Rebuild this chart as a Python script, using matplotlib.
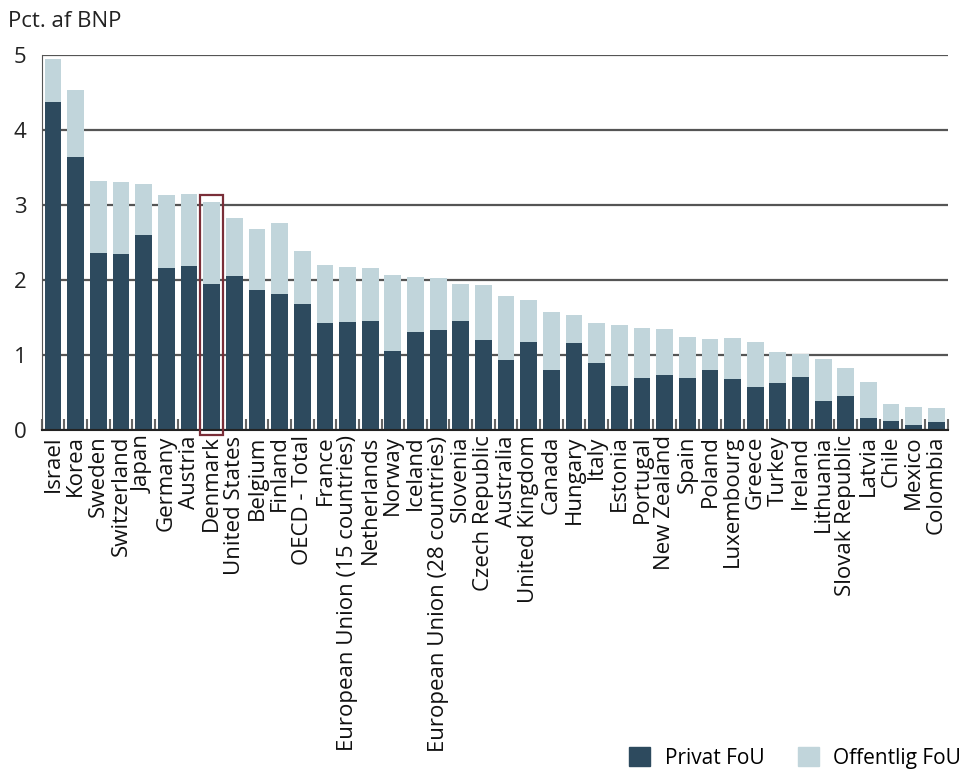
import matplotlib.pyplot as plt
import matplotlib.patches as mpatches
import numpy as np

countries = [
    "Israel", "Korea", "Sweden", "Switzerland", "Japan", "Germany", "Austria",
    "Denmark", "United States", "Belgium", "Finland", "OECD - Total", "France",
    "European Union (15 countries)", "Netherlands", "Norway", "Iceland",
    "European Union (28 countries)", "Slovenia", "Czech Republic", "Australia",
    "United Kingdom", "Canada", "Hungary", "Italy", "Estonia", "Portugal",
    "New Zealand", "Spain", "Poland", "Luxembourg", "Greece", "Turkey",
    "Ireland", "Lithuania", "Slovak Republic", "Latvia", "Chile", "Mexico",
    "Colombia",
]
# total R&D (pct. of GDP) and the private part of it
total = [4.95, 4.53, 3.32, 3.31, 3.28, 3.13, 3.15, 3.04, 2.83, 2.68, 2.76,
         2.39, 2.20, 2.17, 2.16, 2.07, 2.04, 2.03, 1.95, 1.93, 1.79, 1.73,
         1.57, 1.53, 1.43, 1.40, 1.36, 1.35, 1.24, 1.21, 1.23, 1.17, 1.04,
         1.01, 0.95, 0.83, 0.64, 0.35, 0.31, 0.29]
privat = [4.37, 3.64, 2.36, 2.35, 2.60, 2.16, 2.19, 1.95, 2.05, 1.87, 1.81,
          1.68, 1.43, 1.44, 1.45, 1.05, 1.31, 1.33, 1.45, 1.20, 0.93, 1.17,
          0.80, 1.16, 0.89, 0.59, 0.69, 0.73, 0.69, 0.80, 0.68, 0.57, 0.62,
          0.71, 0.39, 0.45, 0.16, 0.12, 0.07, 0.11]
offentlig = [t - p for t, p in zip(total, privat)]

dark = "#2d4a5e"
light = "#c1d5db"
plt.rcParams["font.family"] = ["Open Sans", "DejaVu Sans"]

fig = plt.figure(figsize=(9.72, 7.76), dpi=100)
ax = fig.add_axes([0.043, 0.446, 0.932, 0.483])

x = np.arange(len(countries))
ax.bar(x, privat, width=0.74, color=dark, zorder=3)
ax.bar(x, offentlig, width=0.74, bottom=privat, color=light, zorder=3)

ax.set_xlim(-0.5, len(countries) - 0.5)
ax.set_ylim(0, 5)
ax.set_yticks([0, 1, 2, 3, 4, 5])
ax.yaxis.grid(True, color="#555555", linewidth=1.6, zorder=1)
ax.tick_params(axis="y", length=0, labelsize=16, pad=11, colors="#222222")

ax.set_xticks(x)
ax.set_xticklabels(countries, rotation=90, fontsize=16, color="#111111")
ax.tick_params(axis="x", length=0, pad=4)
ax.set_xticks(np.arange(len(countries) + 1) - 0.5, minor=True)
ax.tick_params(axis="x", which="minor", direction="in", length=8,
               width=1.5, color="#666666")

for s in ["top", "right"]:
    ax.spines[s].set_visible(False)
ax.spines["left"].set_color("#555555")
ax.spines["bottom"].set_color("#222222")
ax.spines["bottom"].set_linewidth(1.5)
ax.spines["bottom"].set_zorder(4)

# highlight Denmark
i = countries.index("Denmark")
box = mpatches.Rectangle((i - 0.5, -0.07), 1.0, total[i] + 0.16, fill=False,
                         edgecolor="#7a2e38", linewidth=1.6, clip_on=False,
                         zorder=5)
ax.add_patch(box)

fig.text(0.008, 0.965, "Pct. af BNP", fontsize=16, color="#222222")

handles = [mpatches.Patch(color=dark, label="Privat FoU"),
           mpatches.Patch(color=light, label="Offentlig FoU")]
fig.legend(handles=handles, loc="lower right", bbox_to_anchor=(1.008, -0.015),
           ncol=2, frameon=False, fontsize=15, handlelength=1.0,
           handleheight=1.0, columnspacing=1.6, handletextpad=0.7)

fig.savefig("out.png", dpi=100)
